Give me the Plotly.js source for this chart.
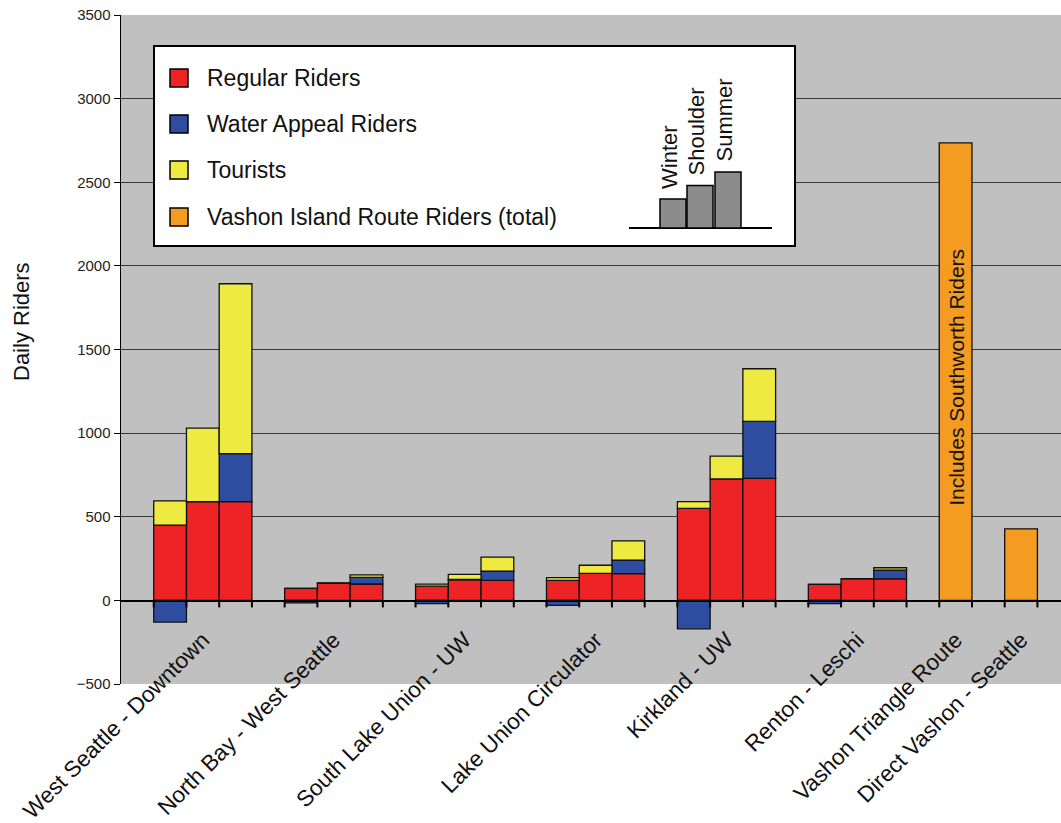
<!DOCTYPE html>
<html>
<head>
<meta charset="utf-8">
<script src="https://cdn.plot.ly/plotly-3.0.1.min.js"></script>
<style>html,body{margin:0;padding:0;background:#fff}#chart{width:1061px;height:823px}</style>
</head>
<body>
<div id="chart"></div>
<script>
// ---- data ----
const routes = ["West Seattle - Downtown", "North Bay - West Seattle", "South Lake Union - UW", "Lake Union Circulator", "Kirkland - UW", "Renton - Leschi"];
const seasons = ["Winter", "Shoulder", "Summer"];
const regularRiders = [[450, 590, 590], [72, 102, 98], [85, 122, 120], [120, 162, 160], [550, 726, 729], [96, 130, 128]];
const waterAppealRiders = [[-130, 0, 288], [-15, 0, 40], [-20, 3, 54], [-30, 0, 80], [-170, 0, 341], [-20, 0, 52]];
const tourists = [[145, 440, 1015], [0, 2, 15], [12, 30, 84], [16, 48, 116], [40, 136, 315], [0, 0, 15]];
const vashonRoutes = ["Vashon Triangle Route", "Direct Vashon - Seattle"];
const vashonTotal = [2735, 428];
const seriesNames = ["Regular Riders", "Water Appeal Riders", "Tourists", "Vashon Island Route Riders (total)"];
const insetHeights = [1, 1.5, 2]; // schematic legend bars (relative)
const noteText = "Includes Southworth Riders";
const yTitle = "Daily Riders";

// ---- styles ----
const colors = ["#EE2326", "#2F4DA0", "#EFEA41", "#F49B21"];
const FONT = "Arial, 'Liberation Sans', Helvetica, sans-serif";
const L = 121, T = 15, W = 940, H = 669;
const fx = p => (p - L) / W;
const fy = p => (T + H - p) / H;

// positions: slot index per bar (one empty slot between groups)
const xs = [], yReg = [], yWat = [], yTou = [], tickvals = [], ticktext = [];
routes.forEach((r, g) => {
  seasons.forEach((s, i) => {
    xs.push(1 + 4 * g + i);
    yReg.push(regularRiders[g][i]);
    yWat.push(waterAppealRiders[g][i]);
    yTou.push(tourists[g][i]);
  });
  tickvals.push(2 + 4 * g);
  ticktext.push(r);
});
const vx = vashonRoutes.map((r, k) => 25 + 2 * k);
vx.forEach((x, k) => { tickvals.push(x); ticktext.push(vashonRoutes[k]); });
const boundaries = [];
for (let b = 0.5; b < 28; b += 1) boundaries.push(b);

const line = {color: "#111", width: 1.3};
const mk = (name, x, y, c) => ({type: "bar", name, x, y, width: 1, marker: {color: c, line}, showlegend: false, hoverinfo: "x+y+name"});
const data = [
  mk(seriesNames[0], xs, yReg, colors[0]),
  mk(seriesNames[1], xs, yWat, colors[1]),
  mk(seriesNames[2], xs, yTou, colors[2]),
  mk(seriesNames[3], vx, vashonTotal, colors[3])
];

const shapes = [];
const annotations = [];
// category tick marks between slots (below the zero axis line)
const tickDepth = 42; // in y units (~7 px)
boundaries.forEach(b => {
  shapes.push({type: "line", xref: "x", yref: "y", x0: b, x1: b, y0: 0, y1: -tickDepth,
    line: {color: "#000000", width: 2}, layer: "above"});
});
// ---- custom legend box ----
shapes.push({type: "rect", xref: "paper", yref: "paper", x0: fx(154), x1: fx(795), y0: fy(246), y1: fy(46),
  fillcolor: "#fff", line: {color: "#000", width: 2}, layer: "above"});
const rowY = [78, 124, 170, 217];
seriesNames.forEach((n, k) => {
  shapes.push({type: "rect", xref: "paper", yref: "paper", x0: fx(170), x1: fx(188), y0: fy(rowY[k] + 9), y1: fy(rowY[k] - 9),
    fillcolor: colors[k], line: {color: "#000", width: 1.5}, layer: "above"});
  annotations.push({xref: "paper", yref: "paper", x: fx(205), y: fy(rowY[k]), xanchor: "left", yanchor: "middle",
    text: n, showarrow: false, font: {family: FONT, size: 23, color: "#111"}});
});
// inset schematic
shapes.push({type: "line", xref: "paper", yref: "paper", x0: fx(629), x1: fx(772), y0: fy(228), y1: fy(228), line: {color: "#000", width: 2}, layer: "above"});
const insetLeft = [660, 687, 715], insetW = 26, unitPx = 27;
seasons.forEach((s, i) => {
  const top = 228 - insetHeights[i] * unitPx - 2;
  shapes.push({type: "rect", xref: "paper", yref: "paper", x0: fx(insetLeft[i]), x1: fx(insetLeft[i] + insetW), y0: fy(228), y1: fy(top),
    fillcolor: "#8C8C8C", line: {color: "#000", width: 1.5}, layer: "above"});
  annotations.push({xref: "paper", yref: "paper", x: fx(insetLeft[i] + 9), y: fy(top - 8), xanchor: "center", yanchor: "bottom",
    text: s, textangle: -90, showarrow: false, font: {family: FONT, size: 22, color: "#111"}});
});
// note inside the Vashon bar
annotations.push({xref: "x", yref: "y", x: vx[0], y: 1335, text: noteText, textangle: -90, showarrow: false,
  font: {family: FONT, size: 21, color: "#111"}});
// y title
annotations.push({xref: "paper", yref: "paper", x: fx(22), y: fy(322), text: yTitle, textangle: -90, showarrow: false,
  xanchor: "center", yanchor: "middle", font: {family: FONT, size: 22, color: "#111"}});

const layout = {
  width: 1061, height: 823,
  margin: {l: L, r: 0, t: T, b: 823 - T - H, pad: 0},
  paper_bgcolor: "#fff", plot_bgcolor: "#C0C0C0",
  barmode: "relative", bargap: 0,
  font: {family: FONT, color: "#111"},
  xaxis: {
    range: [-0.5, 28.22], anchor: "free", position: 0.125,
    tickmode: "array", tickvals, ticktext, tickangle: -45,
    ticks: "outside", ticklen: 6, tickcolor: "rgba(0,0,0,0)", tickwidth: 1, automargin: false,
    ticklabelstandoff: 10,
    tickfont: {family: FONT, size: 22.5, color: "#111"},
    showline: true, linecolor: "#000", linewidth: 1.5, showgrid: false, zeroline: false
  },
  yaxis: {
    range: [-500, 3500], dtick: 500, tick0: 0, automargin: false,
    ticks: "outside", ticklen: 6, tickcolor: "#000", tickwidth: 1,
    tickfont: {family: FONT, size: 15, color: "#222"},
    showline: true, linecolor: "#000", linewidth: 1.5,
    showgrid: true, gridcolor: "#3a3a3a", gridwidth: 1, zeroline: false
  },
  shapes, annotations, showlegend: false
};
Plotly.newPlot("chart", data, layout, {displayModeBar: false, staticPlot: true});
</script>
</body>
</html>
